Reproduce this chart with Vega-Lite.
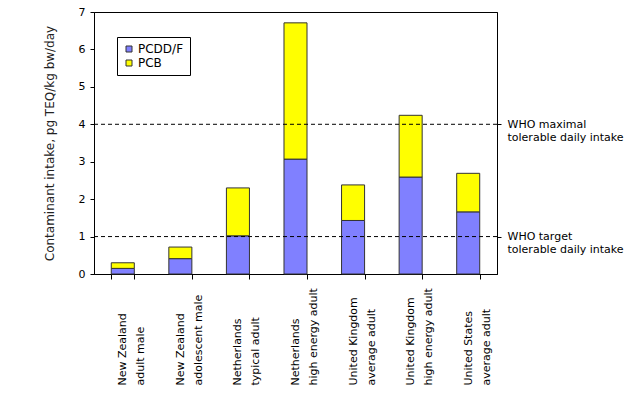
{
  "$schema": "https://vega.github.io/schema/vega-lite/v6.json",
  "width": 403,
  "height": 262,
  "autosize": {"type": "none"},
  "padding": {"left": 94, "top": 12, "right": 143, "bottom": 119},
  "background": "white",
  "config": {
    "font": "DejaVu Sans",
    "view": {"stroke": "black", "strokeWidth": 1},
    "axis": {"grid": false, "domainColor": "black", "tickColor": "black", "labelColor": "black", "titleColor": "#222", "labelFontSize": 11, "titleFontSize": 12, "titleFontWeight": "normal"}
  },
  "datasets": {
    "bars": [
      {"group": "New Zealand|adult male", "contaminant": "PCDD/F", "ord": 1, "intake": 0.15},
      {"group": "New Zealand|adult male", "contaminant": "PCB", "ord": 2, "intake": 0.15},
      {"group": "New Zealand|adolescent male", "contaminant": "PCDD/F", "ord": 1, "intake": 0.41},
      {"group": "New Zealand|adolescent male", "contaminant": "PCB", "ord": 2, "intake": 0.31},
      {"group": "Netherlands|typical adult", "contaminant": "PCDD/F", "ord": 1, "intake": 1.02},
      {"group": "Netherlands|typical adult", "contaminant": "PCB", "ord": 2, "intake": 1.28},
      {"group": "Netherlands|high energy adult", "contaminant": "PCDD/F", "ord": 1, "intake": 3.07},
      {"group": "Netherlands|high energy adult", "contaminant": "PCB", "ord": 2, "intake": 3.64},
      {"group": "United Kingdom|average adult", "contaminant": "PCDD/F", "ord": 1, "intake": 1.43},
      {"group": "United Kingdom|average adult", "contaminant": "PCB", "ord": 2, "intake": 0.95},
      {"group": "United Kingdom|high energy adult", "contaminant": "PCDD/F", "ord": 1, "intake": 2.59},
      {"group": "United Kingdom|high energy adult", "contaminant": "PCB", "ord": 2, "intake": 1.65},
      {"group": "United States|average adult", "contaminant": "PCDD/F", "ord": 1, "intake": 1.66},
      {"group": "United States|average adult", "contaminant": "PCB", "ord": 2, "intake": 1.03}
    ],
    "who": [
      {"level": 1, "name": "target"},
      {"level": 4, "name": "maximal"}
    ]
  },
  "layer": [
    {
      "data": {"name": "bars"},
      "mark": {"type": "bar", "stroke": "#333333", "strokeWidth": 1},
      "encoding": {
        "x": {
          "field": "group", "type": "nominal", "sort": null,
          "scale": {"paddingInner": 0.6, "paddingOuter": 0.3},
          "axis": {
            "title": null,
            "labelExpr": "split(datum.label, '|')",
            "labelAngle": -90,
            "labelAlign": "left",
            "labelBaseline": "middle",
            "labelLineHeight": 18,
            "labelPadding": 106,
            "labelLimit": 200,
            "tickSize": 5,
            "tickBand": "extent",
            "labelFontSize": 11
          }
        },
        "y": {
          "field": "intake", "type": "quantitative", "stack": "zero",
          "scale": {"domain": [0, 7], "nice": false},
          "axis": {
            "title": "Contaminant intake, pg TEQ/kg bw/day",
            "values": [0, 1, 2, 3, 4, 5, 6, 7],
            "tickSize": 4,
            "labelPadding": 5,
            "titlePadding": 22
          }
        },
        "color": {
          "field": "contaminant", "type": "nominal",
          "scale": {"domain": ["PCDD/F", "PCB"], "range": ["#8080FF", "#FFFF00"]},
          "legend": {
            "title": null,
            "orient": "none",
            "legendX": 23,
            "legendY": 25,
            "strokeColor": "black",
            "fillColor": "white",
            "padding": 6,
            "symbolType": "square",
            "symbolSize": 36,
            "symbolStrokeColor": "#333333",
            "symbolStrokeWidth": 1,
            "labelFontSize": 12,
            "labelOffset": 3,
            "rowPadding": 2,
            "labelColor": "black"
          }
        },
        "order": {"field": "ord", "type": "quantitative"}
      }
    },
    {
      "data": {"name": "who"},
      "mark": {"type": "rule", "color": "black", "strokeDash": [4, 3], "strokeWidth": 1},
      "encoding": {
        "y": {
          "field": "level", "type": "quantitative",
          "scale": {"domain": [0, 7], "nice": false},
          "axis": {
            "orient": "right",
            "title": null,
            "values": [1, 4],
            "labelExpr": "datum.value == 4 ? ['WHO maximal', 'tolerable daily intake'] : ['WHO target', 'tolerable daily intake']",
            "labelAlign": "left",
            "labelBaseline": "middle",
            "labelLineHeight": 13,
            "labelPadding": 6,
            "tickSize": 4,
            "labelFontSize": 11
          }
        }
      }
    }
  ],
  "resolve": {"axis": {"y": "independent"}}
}
